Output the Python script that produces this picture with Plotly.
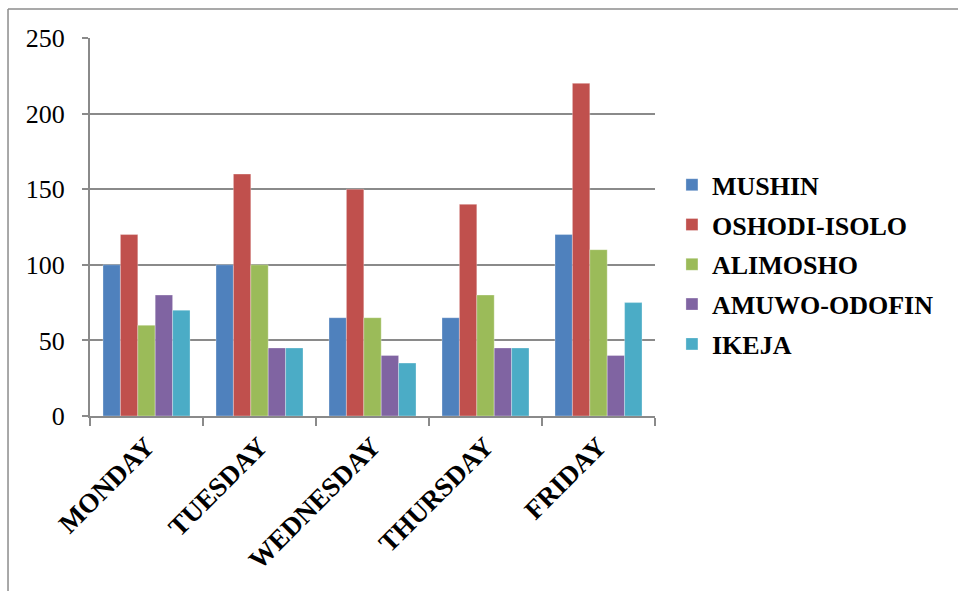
import plotly.graph_objects as go

days = ["MONDAY", "TUESDAY", "WEDNESDAY", "THURSDAY", "FRIDAY"]
mushin = [100, 100, 65, 65, 120]
oshodi = [120, 160, 150, 140, 220]
alimosho = [60, 100, 65, 80, 110]
amuwo = [80, 45, 40, 45, 40]
ikeja = [70, 45, 35, 45, 75]

series = [
    ("MUSHIN", mushin, "#4F81BD"),
    ("OSHODI-ISOLO", oshodi, "#C0504D"),
    ("ALIMOSHO", alimosho, "#9BBB59"),
    ("AMUWO-ODOFIN", amuwo, "#8064A2"),
    ("IKEJA", ikeja, "#4BACC6"),
]

fig = go.Figure()
for i, (name, vals, col) in enumerate(series):
    fig.add_trace(go.Bar(
        x=days, y=vals, name=name, legendgroup=f"g{i}",
        marker=dict(color=col, line=dict(color="rgba(255,255,255,0.5)", width=0.6)),
    ))

grey = "#8a8a8a"
fig.update_layout(
    width=958, height=591,
    margin=dict(l=90, r=303, t=38, b=175, autoexpand=False),
    paper_bgcolor="white", plot_bgcolor="white",
    barmode="group", bargap=0.23, bargroupgap=0,
    font=dict(family="Liberation Serif", color="black"),
    showlegend=True,
    legend=dict(
        x=1.03, xanchor="left", y=0.40, yanchor="middle",
        font=dict(family="Liberation Serif", size=26, weight="bold", color="black"),
        tracegroupgap=3, traceorder="grouped",
        itemwidth=30,
    ),
    xaxis=dict(
        automargin=False,
        showline=True, linecolor=grey, linewidth=2,
        ticks="outside", tickson="boundaries", ticklen=8, tickwidth=2, tickcolor=grey,
        tickangle=-45, ticklabelstandoff=2,
        tickfont=dict(family="Liberation Serif", size=27, weight="bold", color="black"),
        showgrid=False,
    ),
    yaxis=dict(
        automargin=False,
        range=[0, 250], dtick=50,
        showline=True, linecolor=grey, linewidth=2,
        ticks="outside", ticklen=6, tickwidth=2, tickcolor=grey,
        ticklabelstandoff=12,
        tickfont=dict(family="Liberation Serif", size=26, color="black"),
        showgrid=True, gridcolor=grey, gridwidth=2,
        zeroline=False,
    ),
    shapes=[
        dict(type="line", xref="paper", yref="paper",
             x0=-0.1451, x1=1.6, y0=1.0767, y1=1.0767,
             line=dict(color="#8c8c8c", width=1.5)),
        dict(type="line", xref="paper", yref="paper",
             x0=-0.1451, x1=-0.1451, y0=1.0767, y1=-0.6,
             line=dict(color="#8c8c8c", width=1.5)),
    ],
)

fig.write_html("out.html")
